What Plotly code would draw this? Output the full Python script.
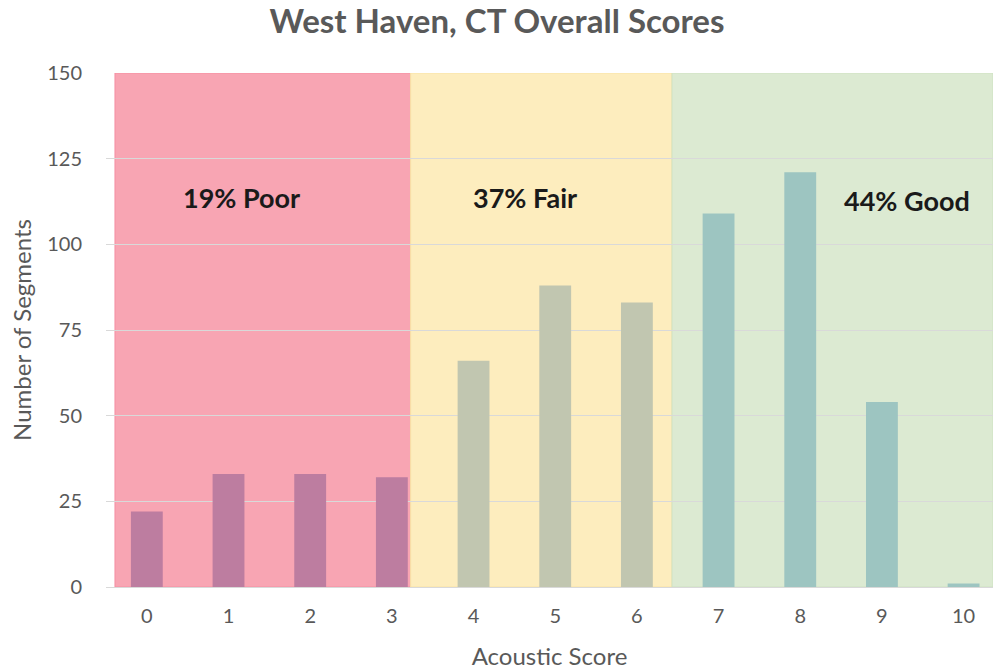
import plotly.graph_objects as go

scores = [0, 1, 2, 3, 4, 5, 6, 7, 8, 9, 10]
segments = [22, 33, 33, 32, 66, 88, 83, 109, 121, 54, 1]
tick_labels = [str(s) for s in scores]

band_names = ["Poor", "Fair", "Good"]
band_members = [[0, 1, 2, 3], [4, 5, 6], [7, 8, 9, 10]]
band_x = [(-0.39, 3.23), (3.23, 6.43), (6.43, 10.36)]
band_fill = ["#F8A5B3", "#FDEDBE", "#DCEAD2"]
band_line = ["#F58FA2", "#F9E3A6", "#CFE2C2"]
bar_fill = ["#BD7DA0", "#C1C6B0", "#9DC5C1"]
label_pos = [(1.16, 113.8), (4.63, 113.8), (9.31, 112.9)]

total = sum(segments)
colors = []
for s in scores:
    for i, m in enumerate(band_members):
        if s in m:
            colors.append(bar_fill[i])

fig = go.Figure()
fig.add_trace(go.Bar(
    x=scores, y=segments, marker=dict(color=colors, line=dict(width=0)),
    width=0.39, hoverinfo="x+y",
))

for i in range(3):
    x0, x1 = band_x[i]
    fig.add_shape(type="rect", xref="x", yref="y", x0=x0, x1=x1, y0=0, y1=150,
                  fillcolor=band_fill[i], line=dict(color=band_line[i], width=1),
                  layer="below")
    pct = round(sum(segments[s] for s in band_members[i]) / total * 100)
    fig.add_annotation(x=label_pos[i][0], y=label_pos[i][1], xref="x", yref="y",
                       text=f"<b>{pct}% {band_names[i]}</b>", showarrow=False,
                       font=dict(family="Lato", size=27, color="#1a1a1a"))

fig.update_layout(
    width=994, height=670,
    margin=dict(l=106, r=1, t=73, b=83, autoexpand=False),
    paper_bgcolor="white", plot_bgcolor="white",
    title=dict(text="<b>West Haven, CT Overall Scores</b>", x=0.5, xanchor="center",
               y=0.968, yanchor="middle",
               font=dict(family="Lato", size=33, color="#595959")),
    font=dict(family="Lato", color="#595959"),
    showlegend=False,
    bargap=0.5,
)
fig.update_xaxes(
    range=[-0.5, 10.36], tickmode="array", tickvals=scores, ticktext=tick_labels,
    showgrid=False, zeroline=False, showline=True, linecolor="#D9D9D9", linewidth=1,
    ticks="outside", ticklen=11, tickcolor="rgba(0,0,0,0)",
    tickfont=dict(size=20, color="#595959"), automargin=False,
    title=dict(text="Acoustic Score", font=dict(size=24, color="#595959"), standoff=22),
)
fig.update_yaxes(
    range=[0, 150], dtick=25, showgrid=True, gridcolor="#D9D9D9", gridwidth=1,
    zeroline=False, ticks="outside", ticklen=19, tickcolor="rgba(0,0,0,0)",
    tickfont=dict(size=20, color="#595959"), automargin=False,
    title=dict(text="Number of Segments", font=dict(size=24, color="#595959"), standoff=8),
)

fig.write_html("out.html", config={"displayModeBar": False},
               post_script="document.body.style.margin='0';")
